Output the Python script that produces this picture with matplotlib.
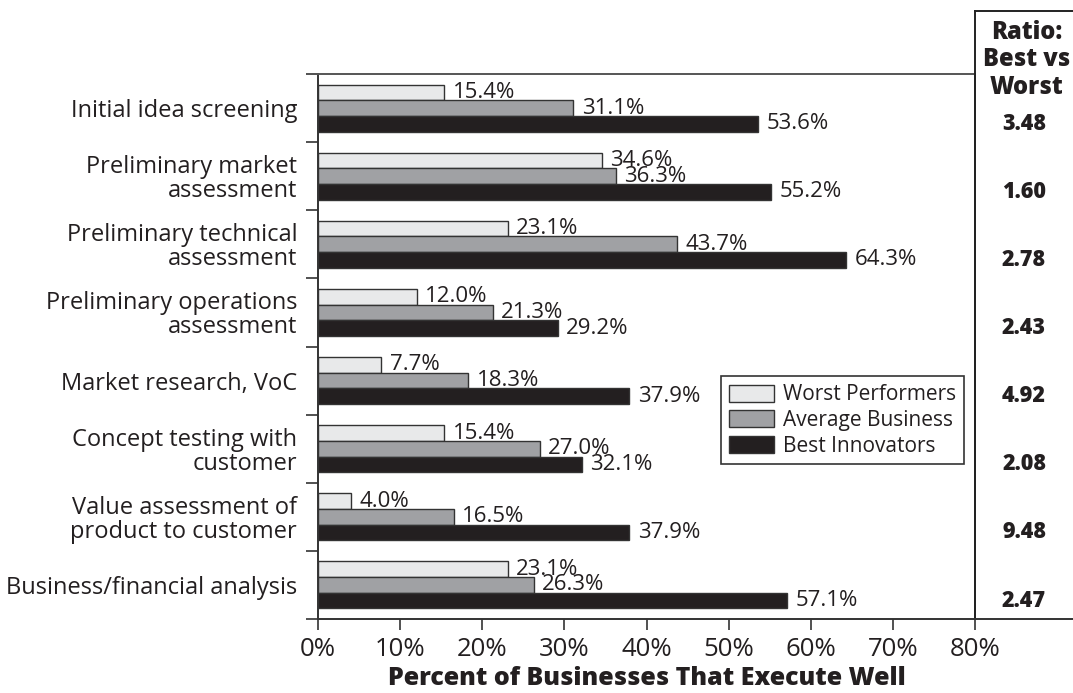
import matplotlib.pyplot as plt
import numpy as np
from matplotlib.lines import Line2D

plt.rcParams['font.family'] = ['Open Sans', 'DejaVu Sans']

categories = [
    "Initial idea screening",
    "Preliminary market\nassessment",
    "Preliminary technical\nassessment",
    "Preliminary operations\nassessment",
    "Market research, VoC",
    "Concept testing with\ncustomer",
    "Value assessment of\nproduct to customer",
    "Business/financial analysis",
]
worst = [15.4, 34.6, 23.1, 12.0, 7.7, 15.4, 4.0, 23.1]
average = [31.1, 36.3, 43.7, 21.3, 18.3, 27.0, 16.5, 26.3]
best = [53.6, 55.2, 64.3, 29.2, 37.9, 32.1, 37.9, 57.1]
ratios = ["3.48", "1.60", "2.78", "2.43", "4.92", "2.08", "9.48", "2.47"]
series_names = ["Worst Performers", "Average Business", "Best Innovators"]
x_ticks = [0, 10, 20, 30, 40, 50, 60, 70, 80]

ink = "#231f20"
colors = ["#e8e9ea", "#a0a1a4", ink]

fig = plt.figure(figsize=(10.73, 6.93), dpi=100)
ax = fig.add_axes([318 / 1073, 74 / 693, 657 / 1073, 545 / 693])

y = np.arange(len(categories))
h = 0.23
for k, vals in enumerate([worst, average, best]):
    pos = y + (k - 1) * h
    ax.barh(pos, vals, height=h, color=colors[k], edgecolor="#333333",
            linewidth=1.0, label=series_names[k], zorder=2)
    for p, v in zip(pos, vals):
        ax.annotate(f"{v:.1f}%", (v, p), xytext=(6, 0), textcoords="offset points",
                    ha="left", va="center", fontsize=16, color=ink)

ax.set_xlim(0, 80)
ax.set_ylim(len(categories) - 0.5, -0.5)

# x axis
ax.set_xticks(x_ticks)
ax.set_xticklabels([f"{t}%" for t in x_ticks], fontsize=18.5, color=ink)
ax.tick_params(axis="x", direction="out", length=8, width=1.2, color="#333333", pad=5)
ax.set_xlabel("Percent of Businesses That Execute Well", fontsize=18,
              fontweight="heavy", color=ink, labelpad=3)

# y axis: labels at centres, ticks at group boundaries
ax.set_yticks(y)
ax.set_yticklabels(categories, fontsize=17, color=ink, linespacing=1.0)
ax.tick_params(axis="y", which="major", length=0, pad=15)
ax.set_yticks(np.arange(len(categories) + 1) - 0.5, minor=True)
ax.tick_params(axis="y", which="minor", direction="out", length=9, width=1.2,
               color="#333333")

for s in ax.spines.values():
    s.set_color("#333333")
    s.set_linewidth(1.4)
ax.spines["top"].set_color("#555555")

# right ratio panel
fig.add_artist(Line2D([975 / 1073, 975 / 1073], [74 / 693, 682 / 693],
                      transform=fig.transFigure, color="#222222", lw=1.4))
fig.add_artist(Line2D([975 / 1073, 1.0], [682 / 693, 682 / 693],
                      transform=fig.transFigure, color="#222222", lw=1.4))
fig.add_artist(Line2D([975 / 1073, 1.0], [74 / 693, 74 / 693],
                      transform=fig.transFigure, color="#333333", lw=1.4))
fig.text(1027 / 1073, 677 / 693 - 0.006, "Ratio:\nBest vs\nWorst", ha="center",
         va="top", fontsize=17, fontweight="heavy", color=ink, linespacing=1.12)
for i, r in enumerate(ratios):
    ax.annotate(r, xy=(1024 / 1073, i + h), xycoords=("figure fraction", "data"),
                ha="center", va="center", fontsize=15.5, fontweight="heavy", color=ink)

leg = ax.legend(loc="upper right", bbox_to_anchor=(0.983, 0.445), fontsize=15,
                frameon=True, fancybox=False, framealpha=1, edgecolor="#333333",
                borderaxespad=0, handlelength=2.2, handleheight=0.9,
                handletextpad=0.4, labelspacing=0.22, borderpad=0.38)
leg.get_frame().set_linewidth(1.2)
for t in leg.get_texts():
    t.set_color(ink)

fig.savefig("out.png", dpi=100)
